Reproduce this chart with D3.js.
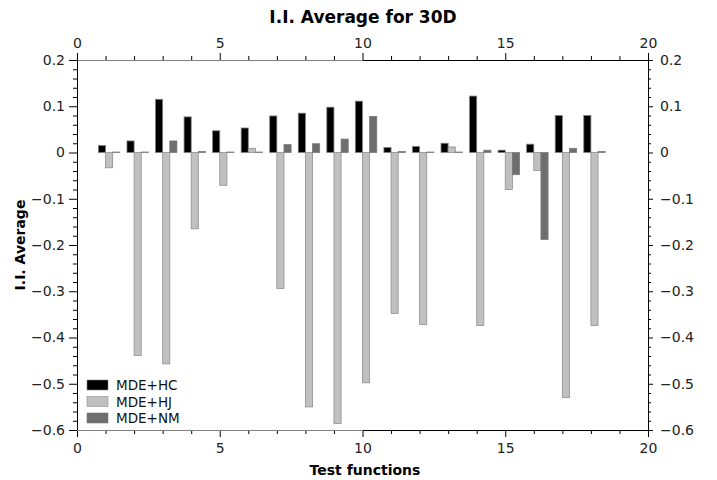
<!DOCTYPE html>
<html><head><meta charset="utf-8">
<script src="https://cdn.jsdelivr.net/npm/d3@7"></script>
<style>body{margin:0;background:#fff}svg{display:block;font-family:"DejaVu Sans",sans-serif}</style>
</head><body><svg id="c" width="717" height="480"></svg>
<script>
const categories = d3.range(1, 19);
const seriesNames = ["MDE+HC", "MDE+HJ", "MDE+NM"];
const hc = [0.015, 0.025, 0.115, 0.077, 0.047, 0.053, 0.079, 0.085, 0.098, 0.111, 0.011, 0.013, 0.020, 0.122, 0.005, 0.018, 0.080, 0.080];
const hj = [-0.033, -0.439, -0.457, -0.165, -0.071, 0.009, -0.294, -0.550, -0.586, -0.498, -0.348, -0.372, 0.012, -0.374, -0.080, -0.039, -0.530, -0.374];
const nm = [0.001, 0.001, 0.025, 0.002, 0.001, 0.001, 0.017, 0.019, 0.029, 0.078, 0.002, 0.001, 0.001, 0.005, -0.048, -0.188, 0.009, 0.002];
const xTicks = [0, 5, 10, 15, 20];
const yTicks = [0.2, 0.1, 0, -0.1, -0.2, -0.3, -0.4, -0.5, -0.6];
const colors = ["#000000", "#c0c0c0", "#6e6e6e"];
const edges = ["#808080", "#909090", "#7a7a7a"];
const offsets = [-0.25, 0, 0.25];
const barW = 0.25;

const svg = d3.select("#c");
const L = 77, R = 648, T = 60, B = 430;
const x = d3.scaleLinear().domain([0, 20]).range([L, R]);
const y = d3.scaleLinear().domain([-0.6, 0.2]).range([B, T]);

const series = [hc, hj, nm];
series.forEach((vals, s) => {
  svg.append("g").selectAll("rect").data(vals).join("rect")
    .attr("x", (d, i) => x(categories[i] + offsets[s]))
    .attr("width", x(barW) - x(0))
    .attr("y", d => y(Math.max(0, d)))
    .attr("height", d => Math.abs(y(d) - y(0)))
    .attr("fill", colors[s])
    .attr("stroke", edges[s])
    .attr("stroke-width", 0.8);
});

const fmt = v => v === 0 ? "0" : (v < 0 ? "\u2212" + d3.format(".1f")(-v) : d3.format(".1f")(v));

function styleAxis(g) {
  g.selectAll("text").attr("font-size", 14).attr("fill", "#222").attr("font-family", "DejaVu Sans");
  g.selectAll("line").attr("stroke", "#000");
  g.select(".domain").remove();
}
const xMinor = d3.range(0, 21, 1).filter(v => v % 5 !== 0);
const yMinor = d3.range(-30, 11).map(v => v * 0.02).filter(v => Math.abs(Math.round(v * 10) - v * 10) > 1e-6);

const axB = svg.append("g").attr("transform", `translate(0,${B})`).call(d3.axisBottom(x).tickValues(xTicks).tickSize(7).tickPadding(6).tickFormat(d3.format("d")));
const axT = svg.append("g").attr("transform", `translate(0,${T})`).call(d3.axisTop(x).tickValues(xTicks).tickSize(7).tickPadding(5).tickFormat(d3.format("d")));
const axL = svg.append("g").attr("transform", `translate(${L},0)`).call(d3.axisLeft(y).tickValues(yTicks).tickSize(8).tickPadding(4).tickFormat(fmt));
const axR = svg.append("g").attr("transform", `translate(${R},0)`).call(d3.axisRight(y).tickValues(yTicks).tickSize(5).tickPadding(7).tickFormat(fmt));
[axB, axT, axL, axR].forEach(styleAxis);

svg.append("g").attr("transform", `translate(0,${B})`).call(d3.axisBottom(x).tickValues(xMinor).tickSize(4).tickFormat("")).call(styleAxis);
svg.append("g").attr("transform", `translate(0,${T})`).call(d3.axisTop(x).tickValues(xMinor).tickSize(4).tickFormat("")).call(styleAxis);
svg.append("g").attr("transform", `translate(${L},0)`).call(d3.axisLeft(y).tickValues(yMinor).tickSize(4).tickFormat("")).call(styleAxis);
svg.append("g").attr("transform", `translate(${R},0)`).call(d3.axisRight(y).tickValues(yMinor).tickSize(3).tickFormat("")).call(styleAxis);

const frame = svg.append("g").attr("shape-rendering", "crispEdges");
frame.append("line").attr("x1", x(0)).attr("x2", x(10)).attr("y1", T).attr("y2", T).attr("stroke", "#808080");
frame.append("line").attr("x1", x(10)).attr("x2", x(20)).attr("y1", T).attr("y2", T).attr("stroke", "#000");
frame.append("line").attr("x1", x(0)).attr("x2", x(10)).attr("y1", B).attr("y2", B).attr("stroke", "#808080");
frame.append("line").attr("x1", x(10)).attr("x2", x(20)).attr("y1", B).attr("y2", B).attr("stroke", "#000");
frame.append("line").attr("x1", L).attr("x2", L).attr("y1", T).attr("y2", B).attr("stroke", "#000");
frame.append("line").attr("x1", R).attr("x2", R).attr("y1", T).attr("y2", B).attr("stroke", "#000");

svg.append("text").attr("x", 363).attr("y", 23).attr("text-anchor", "middle")
  .attr("font-size", 17).attr("font-weight", "bold").text("I.I. Average for 30D");
svg.append("text").attr("x", 365).attr("y", 475).attr("text-anchor", "middle")
  .attr("font-size", 14).attr("font-weight", "bold").text("Test functions");
svg.append("text").attr("transform", `translate(25,${(T + B) / 2}) rotate(-90)`).attr("text-anchor", "middle")
  .attr("font-size", 14).attr("font-weight", "bold").text("I.I. Average");

const lg = svg.append("g").attr("transform", "translate(87,380)");
seriesNames.forEach((n, i) => {
  lg.append("rect").attr("x", 0).attr("y", i * 16.5).attr("width", 21).attr("height", 10)
    .attr("fill", colors[i]).attr("stroke", edges[i]).attr("stroke-width", 0.6);
  lg.append("text").attr("x", 29).attr("y", i * 16.5 + 10).attr("font-size", 13.5).attr("fill", "#111").text(n);
});
</script></body></html>
